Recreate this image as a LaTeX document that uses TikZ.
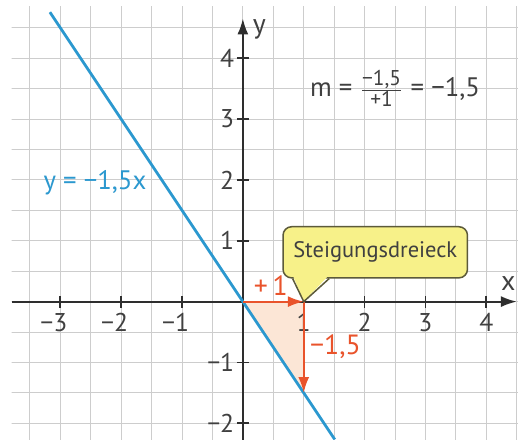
\documentclass[tikz,border=0pt]{standalone}
\usepackage{amsmath}
\usepackage{fontspec}
\setmainfont{PT Sans}
\usetikzlibrary{arrows.meta, calc}
\definecolor{lnblue}{HTML}{2B98CF}
\definecolor{slred}{HTML}{E9532B}
\definecolor{slfill}{HTML}{FCE6D6}
\definecolor{gridgray}{HTML}{CDCDCD}
\definecolor{axdark}{HTML}{2E2E2E}
\definecolor{txgray}{HTML}{404040}
\definecolor{calyellow}{HTML}{F7F189}
\definecolor{calborder}{HTML}{5C5A3A}

\begin{document}
\begin{tikzpicture}[
  >={Latex[length=2.6mm, width=1.8mm]},
  axis/.style={->, line width=0.9pt, axdark},
  numlab/.style={font=\fontsize{12}{13}\selectfont, text=txgray, inner sep=1pt},
  slope/.style={->, line width=1pt, slred},
  slopelab/.style={font=\fontsize{13}{14}\selectfont, text=slred},
  calbox/.style={draw=calborder, line width=0.7pt, fill=calyellow, rounded corners=4pt,
    minimum width=30.3mm, minimum height=8.4mm, inner sep=2pt,
    font=\fontsize{10.5}{12}\selectfont, text=txgray},
]

\useasboundingbox (-3.99,-2.265) rectangle (4.52,4.955);
\fill[white] (-3.99,-2.265) rectangle (4.52,4.955);

% Grid
\begin{scope}
  \clip (-3.8,-2.265) rectangle (4.52,4.85);
  \draw[gridgray, line width=0.4pt, step=0.5] (-4,-2.5) grid (4.6,5);
\end{scope}

% Slope triangle
\coordinate (O) at (0,0);
\coordinate (P1) at (1,0);
\coordinate (P2) at (1,-1.5);
\fill[slfill] (O) -- (P1) -- (P2) -- cycle;

% Axes
\coordinate (xs) at (-3.79,0);
\coordinate (xe) at (4.5,0);
\coordinate (ys) at (0,-2.3);
\coordinate (ye) at (0,4.65);
\draw[axis] (xs) -- (xe);
\draw[axis] (ys) -- (ye);
\node[numlab, font=\fontsize{13}{14}\selectfont] (xlab) at (4.36,0.3) {x};
\node[numlab, font=\fontsize{13}{14}\selectfont] (ylab) at (0.27,4.47) {y};

% Ticks
\foreach \x/\lab in {-3/{\llap{−}3}, -2/{\llap{−}2}, -1/{\llap{−}1}, 1/1, 2/2, 3/3, 4/4} {
  \draw[axdark, line width=0.8pt] (\x,-0.1) -- (\x,0.1);
  \node[numlab] (xt\x) at (\x,-0.34) {\lab};
}
\foreach \y/\lab in {-2/{−2}, -1/{−1}, 1/1, 2/2, 3/3, 4/4} {
  \draw[axdark, line width=0.8pt] (-0.1,\y) -- (0.1,\y);
  \node[numlab, anchor=east] (yt\y) at (-0.1,\y) {\lab};
}

% Line y = -1.5x
\coordinate (ltop) at (-3.17,4.755);
\coordinate (lbot) at (1.51,-2.265);
\draw[lnblue, line width=1.3pt] (ltop) -- (lbot);
\node[font=\fontsize{12.5}{13}\selectfont, text=lnblue] (eqlab) at (-2.43,1.96) {y = −1,5x};

% Slope arrows
\draw[slope] (O) -- (P1);
\draw[slope] (P1) -- (P2);
\node[slopelab] (dx) at (0.46,0.27) {+\,1};
\node[slopelab] (dy) at (1.52,-0.74) {−1,5};

% Callout
\node[calbox] (callout) at (2.175,0.81) {Steigungsdreieck};
\coordinate (tl) at ($(callout.south west)+(0.17,0)$);
\coordinate (tr) at ($(callout.south west)+(0.77,0)$);
\fill[calyellow] ($(tl)+(0,0.06)$) -- (P1) -- ($(tr)+(0,0.06)$) -- cycle;
\draw[calborder, line width=0.7pt] (tl) -- (P1) -- (tr);

% Slope formula
\node[font=\fontsize{12.5}{13}\selectfont, text=txgray] (formula) at (2.5,3.5)
  {m = $\frac{\text{\fontsize{10}{11}\selectfont −1,5}}{\text{\fontsize{10}{11}\selectfont +1}}$ = −1,5};

\end{tikzpicture}
\end{document}
